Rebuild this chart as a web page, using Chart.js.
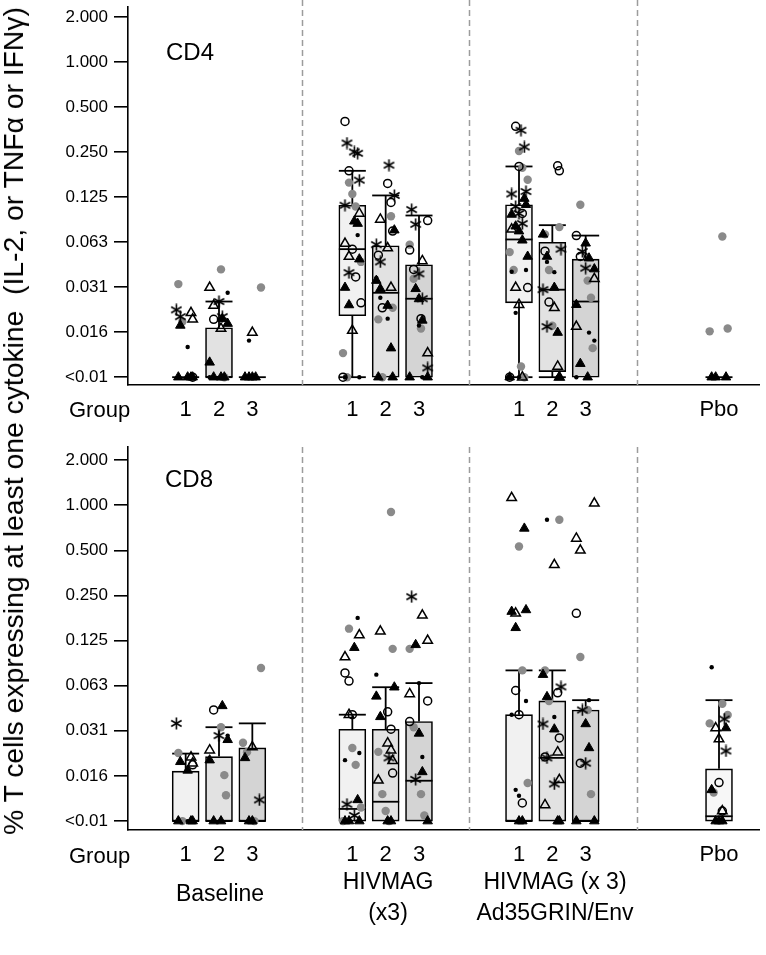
<!DOCTYPE html>
<html><head><meta charset="utf-8">
<script src="https://cdn.jsdelivr.net/npm/chart.js@4.4.1/dist/chart.umd.min.js"></script>
<style>
body{margin:0;background:#fff;width:766px;height:955px;overflow:hidden;position:relative;font-family:'Liberation Sans',Arial,sans-serif;color:#000}
canvas{position:absolute;left:0}
.t{position:absolute;white-space:pre;color:#000}
.c{text-align:center;width:240px}
</style></head><body>
<canvas id="cd4" width="766" height="430" style="top:0"></canvas>
<canvas id="cd8" width="766" height="435" style="top:440px"></canvas>

<div class="t" style="left:13.4px;top:421px;font-size:28.3px;line-height:28px;transform:translate(-50%,-50%) rotate(-90deg)">% T cells expressing at least one cytokine  (IL-2, or TNFα or IFNγ)</div>
<div class="t" style="left:166px;top:40px;font-size:24px;line-height:24px">CD4</div>
<div class="t" style="left:165px;top:467px;font-size:24px;line-height:24px">CD8</div>
<div class="t" style="left:69px;top:399px;font-size:22px;line-height:22px">Group</div>
<div class="t" style="left:69px;top:845px;font-size:22px;line-height:22px">Group</div>
<div class="t c" style="left:100px;top:882px;font-size:23px;line-height:23px">Baseline</div>
<div class="t c" style="left:268px;top:866px;font-size:23px;line-height:31px">HIVMAG
(x3)</div>
<div class="t c" style="left:435px;top:866px;font-size:23px;line-height:31px">HIVMAG (x 3)
Ad35GRIN/Env</div>

<script>
// ---------- categories / ticks ----------
const xPositions = [1, 2, 3, 6, 7, 8, 11, 12, 13, 17];
const xTickLabels = ['1', '2', '3', '1', '2', '3', '1', '2', '3', 'Pbo'];
const yTickValues = [0.0078125, 0.015625, 0.03125, 0.0625, 0.125, 0.25, 0.5, 1, 2];
const yTickLabels = ['<0.01', '0.016', '0.031', '0.063', '0.125', '0.250', '0.500', '1.000', '2.000'];
const separatorPositions = [4.5, 9.5, 14.55];

// ---------- CD4 box statistics (B1 B2 B3 H1 H2 H3 A1 A2 A3 Pbo) ----------
const cd4Q1     = [0.0078, 0.0078, 0.0078, 0.0201, 0.0078, 0.0078, 0.0245, 0.0085, 0.0078, 0.0078];
const cd4Median = [0.0078, 0.0078, 0.0078, 0.056, 0.0286, 0.0261, 0.065, 0.030, 0.025, 0.0078];
const cd4Q3     = [0.0078, 0.0167, 0.0078, 0.110, 0.059, 0.044, 0.111, 0.0623, 0.048, 0.0078];
const cd4Low    = [0.0078, 0.0078, 0.0078, 0.0078, 0.0078, 0.0078, 0.0078, 0.0078, 0.0078, 0.0078];
const cd4High   = [0.0078, 0.025, 0.0078, 0.187, 0.128, 0.094, 0.200, 0.081, 0.069, 0.0078];

// ---------- CD4 individual values by marker ----------
const cd4Grey = [
  [0.0327, 0.0183], [0.041, 0.0078], [0.031],
  [0.156, 0.131, 0.108, 0.046, 0.0113, 0.0078], [0.093, 0.0227, 0.019, 0.0078], [0.060, 0.0355, 0.0165],
  [0.254, 0.196, 0.163, 0.0535, 0.0406, 0.0092, 0.0078], [0.0786, 0.0703, 0.0406, 0.0172], [0.111, 0.0345, 0.0265, 0.0122],
  [0.068, 0.0165, 0.0158]
];
const cd4Dot = [
  [0.0124, 0.0078, 0.0078], [0.0286, 0.0078], [0.0137, 0.0078],
  [0.0695, 0.0078, 0.0078], [0.036, 0.0265, 0.0192, 0.0078], [0.0173, 0.0078],
  [0.0406, 0.0395, 0.021, 0.0078], [0.046, 0.0393, 0.0078], [0.0155, 0.0137, 0.0078],
  [0.0078]
];
const cd4OpenCircle = [
  [0.0078], [0.019], [],
  [0.40, 0.187, 0.056, 0.0365, 0.0245, 0.0078], [0.154, 0.115, 0.074, 0.051, 0.0227], [0.087, 0.0552, 0.041, 0.0192],
  [0.371, 0.200, 0.097, 0.031, 0.0078], [0.202, 0.187, 0.0543, 0.0248], [0.069, 0.050],
  []
];
const cd4OpenTri = [
  [0.021, 0.019], [0.031, 0.0235, 0.0165], [0.0155],
  [0.097, 0.061, 0.050, 0.016], [0.0884, 0.0569, 0.031], [0.0467, 0.0113],
  [0.076, 0.031, 0.0238, 0.0078], [0.0227, 0.0092, 0.0078], [0.0355, 0.017],
  []
];
const cd4FillTri = [
  [0.0173, 0.0078, 0.0078, 0.0078, 0.0078], [0.0192, 0.0178, 0.0098, 0.0078, 0.0078, 0.0078], [0.0078, 0.0078, 0.0078, 0.0078],
  [0.086, 0.083, 0.048, 0.031, 0.0237], [0.075, 0.0345, 0.0304, 0.0235, 0.0122, 0.0078, 0.0078], [0.0304, 0.026, 0.0187, 0.0078, 0.0078],
  [0.122, 0.111, 0.0955, 0.0797, 0.0739, 0.0642, 0.050, 0.0078], [0.0703, 0.050, 0.031, 0.0155, 0.0078], [0.0613, 0.0487, 0.0412, 0.0238, 0.0096, 0.0078],
  [0.0078, 0.0078, 0.0078]
];
const cd4Star = [
  [0.022, 0.0198], [0.025, 0.0198], [],
  [0.287, 0.250, 0.245, 0.162, 0.110, 0.039], [0.204, 0.128, 0.060, 0.046], [0.103, 0.082, 0.0383, 0.0261, 0.009],
  [0.349, 0.270, 0.136, 0.131, 0.108, 0.097, 0.083], [0.056, 0.030, 0.017], [0.054, 0.0418],
  []
];

// ---------- CD8 box statistics ----------
const cd8Q1     = [0.0078, 0.0078, 0.0078, 0.0078, 0.0078, 0.0078, 0.0078, 0.0078, 0.0078, 0.0078];
const cd8Median = [0.0078, 0.0078, 0.0078, 0.0094, 0.0105, 0.0145, 0.0078, 0.0206, 0.0078, 0.0084];
const cd8Q3     = [0.0168, 0.021, 0.024, 0.032, 0.032, 0.036, 0.040, 0.0494, 0.043, 0.0174];
const cd8Low    = [0.0078, 0.0078, 0.0078, 0.0078, 0.0078, 0.0078, 0.0078, 0.0078, 0.0078, 0.0078];
const cd8High   = [0.022, 0.033, 0.035, 0.040, 0.061, 0.065, 0.079, 0.079, 0.050, 0.050];

// ---------- CD8 individual values by marker ----------
const cd8Grey = [
  [0.0222, 0.0078], [0.033, 0.0158, 0.0116], [0.082, 0.026, 0.0225, 0.0078],
  [0.150, 0.024, 0.0185, 0.0096, 0.0078], [0.90, 0.110, 0.0226, 0.0118, 0.0091, 0.0078], [0.110, 0.033, 0.0118, 0.0085],
  [0.53, 0.079, 0.014], [0.80, 0.079, 0.0494], [0.097, 0.043, 0.0118],
  [0.0473, 0.0398, 0.035, 0.0121]
];
const cd8Dot = [
  [0.0078], [0.029], [0.0078],
  [0.177, 0.0222, 0.0199], [0.074], [0.065, 0.0209],
  [0.0494, 0.040, 0.0126, 0.0115], [0.80, 0.0386], [0.050],
  [0.083]
];
const cd8OpenCircle = [
  [0.0185], [0.043], [],
  [0.076, 0.067, 0.040], [0.0418, 0.032, 0.0163], [0.0494, 0.036],
  [0.058, 0.040, 0.0103], [0.056, 0.028, 0.0209], [0.19, 0.019],
  [0.0141, 0.0091]
];
const cd8OpenTri = [
  [0.0208, 0.019], [0.0232], [0.0243],
  [0.136, 0.097, 0.040], [0.144, 0.0258, 0.0232, 0.0197, 0.0146], [0.184, 0.125, 0.055],
  [1.12, 0.19], [0.40, 0.0225, 0.0147, 0.0100], [1.03, 0.60, 0.50],
  [0.0326, 0.0275, 0.0091]
];
const cd8FillTri = [
  [0.0194, 0.017, 0.0078, 0.0078, 0.0078], [0.0458, 0.0272, 0.0199, 0.0078, 0.0078], [0.0206, 0.0078, 0.0078],
  [0.112, 0.0108, 0.0078, 0.0078, 0.0078], [0.061, 0.053, 0.0387, 0.0078, 0.0078], [0.117, 0.030, 0.0166, 0.0078],
  [0.70, 0.20, 0.195, 0.152, 0.0078, 0.0078], [0.074, 0.0526, 0.032, 0.0078, 0.0078], [0.0347, 0.024, 0.0078, 0.0078],
  [0.0326, 0.0126, 0.0078, 0.0078, 0.0078]
];
const cd8Star = [
  [0.035], [0.029], [0.0108],
  [0.0101, 0.0085], [0.0206], [0.245, 0.0148],
  [], [0.0613, 0.0347, 0.0206, 0.0138], [0.043, 0.019],
  [0.0374, 0.0229]
];

// ---------- styling ----------
Chart.defaults.font.family = "'Liberation Sans', Arial, sans-serif";
Chart.defaults.color = '#000';
const boxColors = ['#f1f1f1', '#e2e2e2', '#d4d4d4', '#f1f1f1', '#e2e2e2', '#d4d4d4', '#f1f1f1', '#e2e2e2', '#d4d4d4', '#f7f7f7'];
const JIT = [-0.22, 0.06, 0.26, -0.1, 0.16, -0.28, 0.0, 0.21, -0.16, 0.1];

function makeAsterisk() {
  const c = document.createElement('canvas');
  c.width = 13; c.height = 13;
  const g = c.getContext('2d');
  g.strokeStyle = '#000'; g.lineWidth = 1.6;
  for (const a of [90, 30, 150]) {
    const r = a * Math.PI / 180;
    g.beginPath();
    g.moveTo(6.5 - 6 * Math.cos(r), 6.5 - 6 * Math.sin(r));
    g.lineTo(6.5 + 6 * Math.cos(r), 6.5 + 6 * Math.sin(r));
    g.stroke();
  }
  return c;
}
const asterisk = makeAsterisk();

function pts(cols, t) {
  const out = [];
  cols.forEach((col, ci) => col.forEach((v, i) => {
    out.push({ x: xPositions[ci] + JIT[(i * 3 + t * 7 + ci) % JIT.length], y: v });
  }));
  return out;
}

const boxPlugin = {
  id: 'boxes',
  beforeDatasetsDraw(chart, args, opts) {
    const { ctx, chartArea, scales: { x } } = chart;
    ctx.save();
    ctx.strokeStyle = '#9c9c9c'; ctx.lineWidth = 1.5; ctx.setLineDash([6, 4]);
    for (const s of separatorPositions) {
      const px = Math.round(x.getPixelForValue(s)) + 0.5;
      ctx.beginPath(); ctx.moveTo(px, opts.sepTop); ctx.lineTo(px, chartArea.bottom); ctx.stroke();
    }
    ctx.restore();
  },
  afterDatasetDraw(chart, args, opts) {
    if (args.index !== 0) return;
    const { ctx, scales: { x, y } } = chart;
    const s = opts.stats, hw = 13.5;
    ctx.save();
    ctx.strokeStyle = '#000'; ctx.lineWidth = 1.8; ctx.setLineDash([]);
    const seg = (x1, y1, x2, y2) => { ctx.beginPath(); ctx.moveTo(x1, y1); ctx.lineTo(x2, y2); ctx.stroke(); };
    xPositions.forEach((xv, i) => {
      const cx = x.getPixelForValue(xv);
      const yq1 = y.getPixelForValue(s.q1[i]), yq3 = y.getPixelForValue(s.q3[i]);
      const yhi = y.getPixelForValue(s.hi[i]), ylo = y.getPixelForValue(s.lo[i]);
      const ymed = y.getPixelForValue(s.med[i]);
      if (s.hi[i] > s.q3[i]) { seg(cx, yq3, cx, yhi); seg(cx - hw, yhi, cx + hw, yhi); }
      if (s.lo[i] < s.q1[i]) { seg(cx, yq1, cx, ylo); seg(cx - hw, ylo, cx + hw, ylo); }
      seg(cx - hw, ymed, cx + hw, ymed);
    });
    ctx.restore();
  }
};

function makeChart(id, P) {
  const boxIdx = xPositions.map((_, i) => i).filter(i => P.q3[i] > P.q1[i]);
  const datasets = [
    { type: 'bar', data: boxIdx.map(i => ({ x: xPositions[i], y: [P.q1[i], P.q3[i]] })),
      backgroundColor: boxIdx.map(i => boxColors[i]), borderColor: '#000', borderWidth: 1.6,
      borderSkipped: false, barThickness: 27, order: 10 },
    { type: 'scatter', data: pts(P.grey, 0), pointStyle: 'circle', pointRadius: 4.2,
      pointBackgroundColor: '#8a8a8a', pointBorderColor: '#8a8a8a', pointBorderWidth: 0, order: 7 },
    { type: 'scatter', data: pts(P.oc, 1), pointStyle: 'circle', pointRadius: 4,
      pointBackgroundColor: 'rgba(255,255,255,0)', pointBorderColor: '#000', pointBorderWidth: 1.5, order: 6 },
    { type: 'scatter', data: pts(P.ot, 2), pointStyle: 'triangle', pointRadius: 5.5,
      pointBackgroundColor: 'rgba(255,255,255,0)', pointBorderColor: '#000', pointBorderWidth: 1.5, order: 5 },
    { type: 'scatter', data: pts(P.dot, 3), pointStyle: 'circle', pointRadius: 2.2,
      pointBackgroundColor: '#000', pointBorderColor: '#000', pointBorderWidth: 0, order: 4 },
    { type: 'scatter', data: pts(P.ft, 4), pointStyle: 'triangle', pointRadius: 5.5,
      pointBackgroundColor: '#000', pointBorderColor: '#000', pointBorderWidth: 1, order: 3 },
    { type: 'scatter', data: pts(P.star, 5), pointStyle: asterisk, pointRadius: 6, order: 2 }
  ];
  return new Chart(document.getElementById(id), {
    type: 'scatter',
    data: { datasets },
    plugins: [boxPlugin],
    options: {
      responsive: false, animation: false, events: [],
      layout: { padding: { top: P.padTop, right: 3, left: 0, bottom: 0 } },
      plugins: { legend: { display: false }, tooltip: { enabled: false },
        boxes: { stats: P, sepTop: P.sepTop } },
      scales: {
        x: {
          type: 'linear', min: -0.73, max: 18.2, offset: false,
          afterBuildTicks: s => { s.ticks = xPositions.map(v => ({ value: v })); },
          afterFit: s => { s.height = 45; s.paddingLeft = 0; s.paddingRight = 0; },
          ticks: { autoSkip: false, maxRotation: 0, padding: 12, font: { size: 22 },
                   callback: (v, i) => xTickLabels[i] },
          grid: { display: false, drawTicks: false },
          border: { display: true, color: '#000', width: 1.6 }
        },
        y: {
          type: 'logarithmic', min: P.yMin, max: P.yMax,
          afterBuildTicks: s => { s.ticks = yTickValues.map(v => ({ value: v })); },
          afterFit: s => { s.width = 128; s.paddingTop = 0; s.paddingBottom = 0; },
          ticks: { autoSkip: false, padding: 6, font: { size: 17 },
                   callback: (v, i) => yTickLabels[i] },
          grid: { drawOnChartArea: false, drawTicks: true, tickLength: 14, color: '#000', lineWidth: 1.6 },
          border: { display: true, color: '#000', width: 1.6 }
        }
      }
    }
  });
}

makeChart('cd4', { q1: cd4Q1, med: cd4Median, q3: cd4Q3, lo: cd4Low, hi: cd4High,
  grey: cd4Grey, dot: cd4Dot, oc: cd4OpenCircle, ot: cd4OpenTri, ft: cd4FillTri, star: cd4Star,
  yMin: 0.0078125 * Math.pow(2, -0.176), yMax: Math.pow(2, 1.22), padTop: 3, sepTop: 0 });
makeChart('cd8', { q1: cd8Q1, med: cd8Median, q3: cd8Q3, lo: cd8Low, hi: cd8High,
  grey: cd8Grey, dot: cd8Dot, oc: cd8OpenCircle, ot: cd8OpenTri, ft: cd8FillTri, star: cd8Star,
  yMin: 0.0078125 * Math.pow(2, -0.2), yMax: Math.pow(2, 1.29), padTop: 7, sepTop: 7 });
</script>
</body></html>
